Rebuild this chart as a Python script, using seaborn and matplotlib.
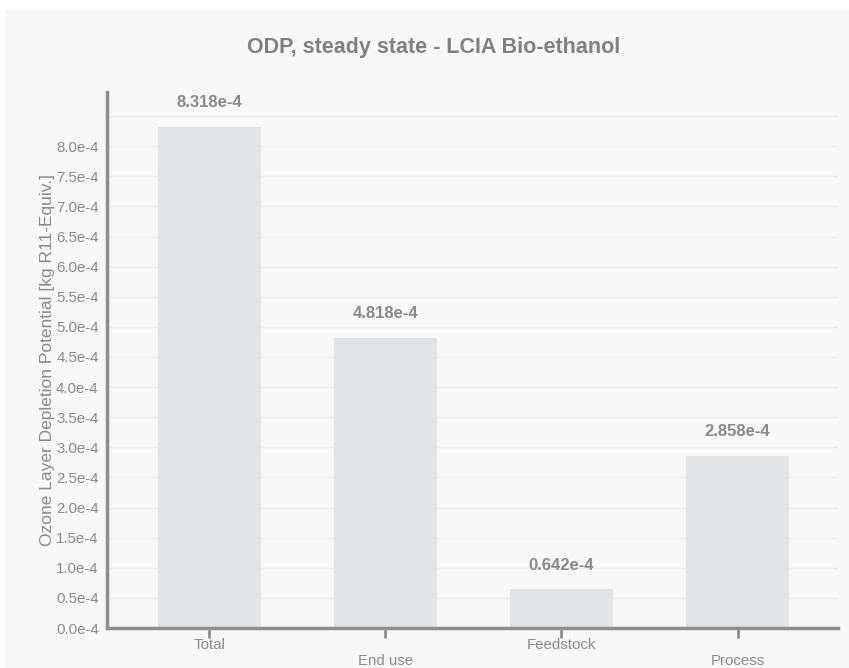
import matplotlib
matplotlib.use("Agg")
import matplotlib.pyplot as plt
import matplotlib.patches as mpatches
import seaborn as sns
import pandas as pd
import numpy as np

categories = ["Total", "End use", "Feedstock", "Process"]
values = [8.318e-4, 4.818e-4, 0.642e-4, 2.858e-4]
value_labels = ["8.318e-4", "4.818e-4", "0.642e-4", "2.858e-4"]
ytick_vals = [i * 0.5e-4 for i in range(18)]
ytick_labels = ["0.0e-4", "0.5e-4", "1.0e-4", "1.5e-4", "2.0e-4", "2.5e-4", "3.0e-4",
                "3.5e-4", "4.0e-4", "4.5e-4", "5.0e-4", "5.5e-4", "6.0e-4", "6.5e-4",
                "7.0e-4", "7.5e-4", "8.0e-4", ""]

sns.set_theme(style="white")
plt.rcParams['font.family'] = ['Liberation Sans', 'DejaVu Sans']

TXT = "#8a8a8a"
PANEL = "#f8f8f8"
BAR = "#e3e4e6"
SPINE = "#8f8f8f"

fig = plt.figure(figsize=(8.49, 6.68), dpi=100)
fig.patch.set_facecolor("white")
fig.patches.append(mpatches.Rectangle((5/849, 0), 1, 1 - 10/668, transform=fig.transFigure,
                                      facecolor=PANEL, edgecolor="none", zorder=-10))

ax = fig.add_axes([107/849, 1 - 628/668, (838 - 107)/849, (628 - 92)/668])
ax.set_facecolor(PANEL)

df = pd.DataFrame({"cat": categories, "val": values})
sns.barplot(data=df, x="cat", y="val", color=BAR, saturation=1, width=0.585, ax=ax,
            zorder=2, edgecolor="none", linewidth=0)

ax.set_xlim(-0.58, 3.57)
ax.set_ylim(0, 8.9e-4)
ax.set_yticks(ytick_vals)
ax.set_yticklabels(ytick_labels)
ax.yaxis.grid(True, color="#ececec", linewidth=1, zorder=0)
ax.set_axisbelow(True)

for s in ["top", "right"]:
    ax.spines[s].set_visible(False)
for s in ["left", "bottom"]:
    ax.spines[s].set_color(SPINE)
    ax.spines[s].set_linewidth(2.5)

ax.tick_params(axis="y", direction="out", length=5, width=2, color=SPINE, labelsize=10.8, labelcolor=TXT, pad=1)
ax.tick_params(axis="x", direction="out", length=7, width=2, color=SPINE, labelsize=10.8, labelcolor=TXT, pad=0, bottom=True)
ax.set_xticks(range(len(categories)))
ax.set_xticklabels(categories)
for i, lab in enumerate(ax.get_xticklabels()):
    if i % 2 == 1:
        lab.set_y(-0.031)

ax.set_xlabel("")
ax.set_ylabel("Ozone Layer Depletion Potential [kg R11-Equiv.]", color=TXT, fontsize=12.5, labelpad=1)

for i, (v, t) in enumerate(zip(values, value_labels)):
    ax.annotate(t, (i, v), xytext=(0, 17.5), textcoords="offset points", ha="center", va="center",
                fontsize=12, fontweight="bold", color=TXT)

fig.text(434/849, 1 - 48/668, "ODP, steady state - LCIA Bio-ethanol", ha="center", va="center",
         fontsize=15.5, fontweight="bold", color="#808080")

fig.savefig("out.png", dpi=100, facecolor=fig.get_facecolor())
